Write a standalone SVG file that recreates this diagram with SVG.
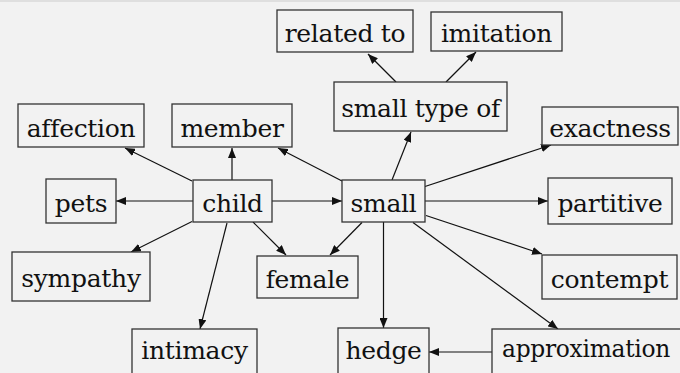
<svg xmlns="http://www.w3.org/2000/svg" width="680" height="373" viewBox="0 0 680 373">
<style>
.n rect{fill:#f2f2f2;stroke:#333;stroke-width:1.3}
.n text{font-family:"DejaVu Serif",serif;font-size:25px;letter-spacing:-0.3px;fill:#111;text-anchor:middle}
.e line{stroke:#111;stroke-width:1.2;marker-end:url(#ah)}
</style>
<defs>
<marker id="ah" viewBox="0 0 10 8" refX="10" refY="4" markerWidth="10" markerHeight="8" markerUnits="userSpaceOnUse" orient="auto">
<path d="M0,0 L10,4 L0,8 Z" fill="#111"/>
</marker>
</defs>
<rect x="0" y="0" width="680" height="373" fill="#f2f2f2"/>
<line x1="0" y1="1" x2="680" y2="1" stroke="#d9d9d9" stroke-width="1.5"/>
<g id="edges" class="e">
<line x1="192" y1="181" x2="125" y2="148"/>
<line x1="232" y1="180" x2="232" y2="148"/>
<line x1="342" y1="181" x2="278" y2="148"/>
<line x1="392" y1="180" x2="411" y2="132"/>
<line x1="396" y1="82" x2="368" y2="54"/>
<line x1="446" y1="82" x2="476" y2="52"/>
<line x1="425" y1="186.5" x2="551" y2="145"/>
<line x1="425" y1="201" x2="548" y2="201"/>
<line x1="426" y1="215.5" x2="542" y2="254"/>
<line x1="413" y1="222.5" x2="558" y2="329"/>
<line x1="383.5" y1="222" x2="383.5" y2="328"/>
<line x1="362" y1="222.5" x2="330" y2="255"/>
<line x1="253" y1="222" x2="286" y2="255"/>
<line x1="272" y1="201" x2="342" y2="201"/>
<line x1="193" y1="201" x2="116" y2="201"/>
<line x1="192" y1="221.5" x2="131" y2="252"/>
<line x1="227" y1="223" x2="200" y2="329"/>
<line x1="492" y1="352" x2="429" y2="352"/>
</g>
<g id="related_to" class="n"><rect x="277" y="10" width="136" height="42"/><text x="345" y="41.5">related to</text></g>
<g id="imitation" class="n"><rect x="431" y="12" width="131" height="39"/><text x="496.5" y="42">imitation</text></g>
<g id="small_type_of" class="n"><rect x="334" y="82" width="173" height="49"/><text x="420.5" y="117">small type of</text></g>
<g id="affection" class="n"><rect x="18" y="104" width="126" height="43"/><text x="81" y="136.5">affection</text></g>
<g id="member" class="n"><rect x="172" y="104" width="120" height="43"/><text x="232" y="136.5">member</text></g>
<g id="exactness" class="n"><rect x="542" y="107" width="136" height="38"/><text x="610" y="136.5">exactness</text></g>
<g id="pets" class="n"><rect x="46" y="179" width="70" height="44"/><text x="81" y="211.5">pets</text></g>
<g id="child" class="n"><rect x="193" y="180" width="79" height="42"/><text x="232.5" y="211.5">child</text></g>
<g id="small" class="n"><rect x="342" y="180" width="83" height="42"/><text x="383.5" y="211.5">small</text></g>
<g id="partitive" class="n"><rect x="548" y="178" width="124" height="46"/><text x="610" y="211.5">partitive</text></g>
<g id="sympathy" class="n"><rect x="12" y="252" width="138" height="49"/><text x="81" y="287">sympathy</text></g>
<g id="female" class="n"><rect x="257" y="256" width="101" height="42"/><text x="307.5" y="287.5">female</text></g>
<g id="contempt" class="n"><rect x="542" y="255" width="135" height="44"/><text x="609.5" y="287.5">contempt</text></g>
<g id="intimacy" class="n"><rect x="132" y="329" width="125" height="50"/><text x="194.5" y="359">intimacy</text></g>
<g id="hedge" class="n"><rect x="338" y="328" width="91" height="50"/><text x="383.5" y="359">hedge</text></g>
<g id="approximation" class="n"><rect x="492" y="329" width="200" height="50"/><text x="502" y="357" textLength="168" lengthAdjust="spacingAndGlyphs" style="text-anchor:start;font-size:24px">approximation</text></g>
</svg>
